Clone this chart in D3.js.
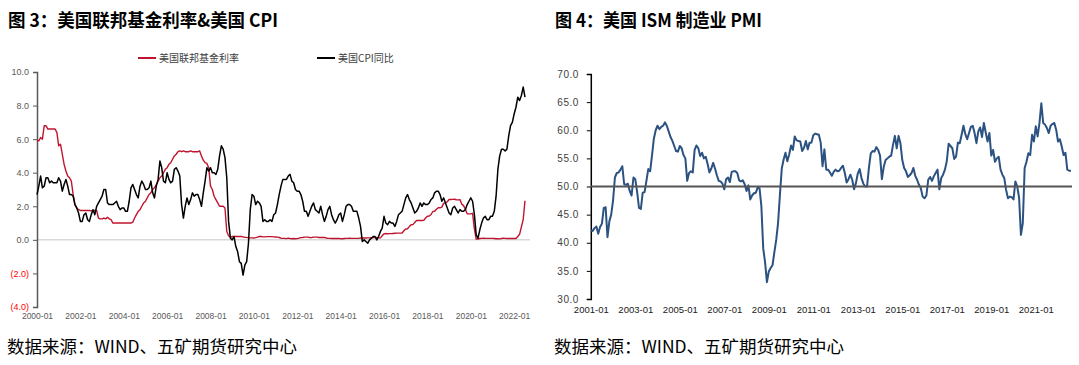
<!DOCTYPE html>
<html><head><meta charset="utf-8">
<script src="https://cdn.jsdelivr.net/npm/d3@7"></script>
<style>
html,body{margin:0;padding:0;background:#fff;}
svg{display:block;}
</style></head><body>
<svg id="c" width="1079" height="365"></svg>
<script>
// ---------- data ----------
const leftStart = [2000, 1];   // first month of left chart series
const fedFunds = [
5.9,5.9,6.1,6.0,6.8,6.8,6.6,6.6,6.6,6.6,6.6,6.4,
5.6,5.7,5.1,4.5,4.1,3.8,3.7,3.5,2.7,2.1,1.9,1.8,
1.75,1.75,1.75,1.75,1.75,1.75,1.73,1.74,1.75,1.75,1.3,1.25,
1.25,1.3,1.25,1.35,1.25,1.2,1.0,1.0,1.0,1.0,1.0,1.0,
1.0,1.0,1.0,1.0,1.0,1.05,1.3,1.5,1.7,1.8,2.0,2.2,
2.3,2.5,2.7,2.8,3.0,3.1,3.3,3.5,3.7,3.8,4.0,4.2,
4.3,4.5,4.6,4.8,5.0,5.1,5.25,5.3,5.25,5.3,5.25,5.25,
5.25,5.3,5.25,5.25,5.25,5.25,5.3,5.0,4.75,4.6,4.55,4.3,
3.2,3.0,2.6,2.4,2.2,2.0,2.0,2.0,1.9,0.5,0.25,0.15,
0.2,0.2,0.2,0.2,0.2,0.2,0.18,0.15,0.15,0.12,0.12,0.12,
0.11,0.13,0.16,0.2,0.2,0.18,0.18,0.19,0.19,0.19,0.19,0.18,
0.17,0.16,0.14,0.1,0.09,0.09,0.07,0.1,0.08,0.07,0.08,0.07,
0.08,0.1,0.13,0.14,0.16,0.16,0.16,0.13,0.14,0.16,0.16,0.16,
0.14,0.15,0.14,0.15,0.11,0.09,0.09,0.08,0.08,0.09,0.08,0.09,
0.07,0.07,0.08,0.09,0.09,0.1,0.09,0.09,0.09,0.09,0.09,0.12,
0.11,0.11,0.11,0.12,0.12,0.13,0.13,0.14,0.14,0.12,0.12,0.24,
0.36,0.38,0.36,0.37,0.37,0.38,0.39,0.4,0.4,0.4,0.41,0.54,
0.65,0.66,0.79,0.9,0.91,1.04,1.15,1.16,1.15,1.15,1.16,1.3,
1.41,1.42,1.51,1.69,1.7,1.82,1.91,1.91,1.95,2.19,2.2,2.27,
2.4,2.4,2.41,2.42,2.39,2.38,2.4,2.13,2.04,1.83,1.55,1.55,
1.55,1.58,0.65,0.05,0.05,0.08,0.09,0.1,0.09,0.09,0.09,0.09,
0.09,0.08,0.07,0.07,0.06,0.08,0.1,0.09,0.08,0.08,0.08,0.08,
0.08,0.08,0.2,0.33,0.77,1.21,2.33
];
const cpiYoY = [
2.7,3.2,3.8,3.1,3.2,3.7,3.7,3.4,3.5,3.4,3.4,3.4,
3.7,3.5,2.9,3.3,3.6,3.2,2.7,2.7,2.6,2.1,1.9,1.6,
1.1,1.1,1.5,1.6,1.2,1.1,1.5,1.8,1.5,2.0,2.2,2.4,
2.6,3.0,3.0,2.2,2.1,2.1,2.1,2.2,2.3,2.0,1.8,1.9,
1.9,1.7,1.7,2.3,3.1,3.3,3.0,2.7,2.5,3.2,3.5,3.3,
3.0,3.0,3.1,3.5,2.8,2.5,3.2,3.6,4.7,4.3,3.5,3.4,
4.0,3.6,3.4,3.5,4.2,4.3,4.1,3.8,2.1,1.3,2.0,2.5,
2.1,2.4,2.8,2.6,2.7,2.7,2.4,2.0,2.8,3.5,4.3,4.1,
4.3,4.0,4.0,3.9,4.2,5.0,5.6,5.4,4.9,3.7,1.1,0.1,
0.0,0.2,-0.4,-0.7,-1.3,-1.4,-2.1,-1.5,-1.3,-0.2,1.8,2.7,
2.6,2.1,2.3,2.2,2.0,1.1,1.2,1.1,1.1,1.2,1.1,1.5,
1.6,2.1,2.7,3.2,3.6,3.6,3.6,3.8,3.9,3.5,3.4,3.0,
2.9,2.9,2.7,2.3,1.7,1.7,1.4,1.7,2.0,2.2,1.8,1.7,
1.6,2.0,1.5,1.1,1.4,1.8,2.0,1.5,1.2,1.0,1.2,1.5,
1.6,1.1,1.5,2.0,2.1,2.1,2.0,1.7,1.7,1.7,1.3,0.8,
-0.1,0.0,-0.1,-0.2,0.0,0.1,0.2,0.2,0.0,0.2,0.5,0.7,
1.4,1.0,0.9,1.1,1.0,1.0,0.8,1.1,1.5,1.6,1.7,2.1,
2.5,2.7,2.4,2.2,1.9,1.6,1.7,1.9,2.2,2.0,2.2,2.1,
2.1,2.2,2.4,2.5,2.8,2.9,2.9,2.7,2.3,2.5,2.2,1.9,
1.6,1.5,1.9,2.0,1.8,1.6,1.8,1.7,1.7,1.8,2.1,2.3,
2.5,2.3,1.5,0.3,0.1,0.6,1.0,1.3,1.4,1.2,1.2,1.4,
1.4,1.7,2.6,4.2,5.0,5.4,5.4,5.3,5.4,6.2,6.8,7.0,
7.5,7.9,8.5,8.3,8.6,9.1,8.5
];
const leftSeriesNames = ["美国联邦基金利率", "美国CPI同比"];
const leftXTicks = ["2000-01","2002-01","2004-01","2006-01","2008-01","2010-01","2012-01","2014-01","2016-01","2018-01","2020-01","2022-01"];
const leftYTicks = [10, 8, 6, 4, 2, 0, -2, -4];

const rightStart = [2001, 1];
const pmi = [
42.2,42.1,42.6,42.9,41.6,42.8,43.4,46.2,46.3,41.0,43.8,45.0,
47.5,51.6,52.4,52.5,53.0,53.6,50.4,50.3,50.5,49.2,48.4,51.6,
51.3,49.0,46.2,46.0,48.9,49.0,51.0,53.1,52.7,55.5,58.5,60.0,
60.8,60.2,60.6,60.8,61.4,60.8,59.8,58.8,58.1,57.2,56.3,56.2,
57.2,56.8,55.6,55.0,51.0,52.4,52.7,52.5,56.5,57.3,56.8,55.4,
56.0,55.0,55.3,54.0,52.5,53.2,54.2,53.2,52.0,51.0,50.9,50.5,
49.5,51.3,51.6,50.8,52.6,52.7,52.7,52.4,51.1,50.9,51.1,50.4,
49.2,50.2,47.7,48.4,48.8,48.9,49.8,49.7,46.5,39.0,36.5,33.0,
34.9,35.5,36.0,38.3,40.5,43.5,48.5,53.2,54.8,56.0,54.5,55.7,
57.3,56.5,58.9,58.2,58.1,58.0,56.3,56.9,58.1,56.6,57.8,57.8,
59.1,59.4,59.3,59.2,57.8,53.6,56.6,53.0,53.0,52.5,51.9,52.6,
53.0,52.7,52.8,53.3,53.7,52.4,50.7,51.3,52.1,51.2,49.5,50.6,
52.3,53.1,51.5,50.5,50.0,50.0,53.3,55.9,56.3,56.2,57.0,56.5,
55.5,51.3,53.5,54.7,55.0,55.3,55.5,57.4,59.0,56.8,59.0,57.7,
54.7,53.3,52.7,51.7,52.0,52.4,53.3,51.9,51.2,50.3,49.7,48.2,
47.9,48.4,51.2,51.7,51.0,51.8,52.4,53.0,49.5,51.5,52.1,53.0,
54.5,57.6,57.2,56.8,54.9,55.3,57.8,57.7,59.2,60.8,59.3,58.4,
59.5,60.6,60.8,59.5,57.7,59.8,60.5,58.8,61.3,59.6,58.0,59.5,
55.5,56.5,54.4,55.0,55.3,53.0,52.1,51.5,49.4,47.9,48.2,48.1,
47.7,50.9,50.0,48.0,41.4,43.5,53.3,54.4,55.9,55.6,59.2,58.0,
60.7,58.9,61.3,64.8,61.3,61.0,60.4,59.5,60.8,61.1,61.3,60.1,
58.0,58.4,57.1,55.6,56.0,53.0,52.8,52.8
];
const rightXTicks = ["2001-01","2003-01","2005-01","2007-01","2009-01","2011-01","2013-01","2015-01","2017-01","2019-01","2021-01"];
const rightYTicks = [70, 65, 60, 55, 50, 45, 40, 35, 30];
const pmiRefLine = 50;

const titles = ["图 3：美国联邦基金利率&美国 CPI", "图 4：美国 ISM 制造业 PMI"];
const sourceText = "数据来源：WIND、五矿期货研究中心";

// ---------- drawing ----------
const svg = d3.select("#c");
const cjk = "'Noto Sans CJK SC', 'Noto Sans', sans-serif";
const num = "'Liberation Sans', Arial, sans-serif";
const monthIdx = (label, start) => {
  const [y, m] = label.split("-").map(Number);
  return (y - start[0]) * 12 + (m - start[1]);
};

// titles & footers
[[8, titles[0], 270], [555, titles[1], 207]].forEach(([x, t, w]) => {
  svg.append("text").attr("x", x).attr("y", 27).attr("font-family", cjk)
    .attr("font-size", 18).attr("font-weight", 700).attr("fill", "#000")
    .attr("textLength", w).attr("lengthAdjust", "spacingAndGlyphs").text(t);
});
[7, 554].forEach(x => {
  svg.append("text").attr("x", x).attr("y", 353).attr("font-family", cjk)
    .attr("font-size", 17).attr("fill", "#000")
    .attr("textLength", 290).attr("lengthAdjust", "spacingAndGlyphs").text(sourceText);
});

// ===== Left chart =====
const lx = d3.scaleLinear().domain([0, 270]).range([37, 525]);
const ly = d3.scaleLinear().domain([-4, 10]).range([307, 72]);

// zero line
svg.append("line").attr("x1", lx(0)).attr("x2", 530)
  .attr("y1", ly(0)).attr("y2", ly(0))
  .attr("stroke", "#d9d9d9").attr("stroke-width", 1.5);

const lyAxis = svg.append("g").attr("transform", `translate(${lx(0)},0)`)
  .call(d3.axisLeft(ly).tickValues(leftYTicks).tickSize(4).tickPadding(4)
    .tickFormat(v => v < 0 ? "(" + Math.abs(v).toFixed(1) + ")" : v.toFixed(1)));
lyAxis.select(".domain").attr("stroke", "#595959").attr("stroke-width", 1.5);
lyAxis.selectAll(".tick line").attr("stroke", "#595959").attr("stroke-width", 1);
lyAxis.selectAll(".tick text").attr("font-family", num).attr("font-size", 9)
  .attr("fill", d => d < 0 ? "#ff0000" : "#595959");

const lxAxis = svg.append("g").attr("transform", `translate(0,${ly(-4)})`)
  .call(d3.axisBottom(lx).tickValues(leftXTicks.map(t => monthIdx(t, leftStart)))
    .tickSize(0).tickPadding(5.5).tickFormat((d, i) => leftXTicks[i]));
lxAxis.select(".domain").remove();
lxAxis.selectAll(".tick text").attr("font-family", num).attr("font-size", 8.5).attr("fill", "#595959");

const lineL = d3.line().x((d, i) => lx(i)).y(d => ly(d));
svg.append("path").datum(fedFunds).attr("d", lineL).attr("fill", "none")
  .attr("stroke", "#c0142e").attr("stroke-width", 1.4).attr("stroke-linejoin", "round");
svg.append("path").datum(cpiYoY).attr("d", lineL).attr("fill", "none")
  .attr("stroke", "#000").attr("stroke-width", 1.5).attr("stroke-linejoin", "round");

// legend
const legendColors = ["#c0142e", "#000"];
[[138, 0], [317, 1]].forEach(([x, i]) => {
  svg.append("line").attr("x1", x).attr("x2", x + 18).attr("y1", 58).attr("y2", 58)
    .attr("stroke", legendColors[i]).attr("stroke-width", 2);
  svg.append("text").attr("x", x + 21).attr("y", 61.5).attr("font-family", cjk)
    .attr("font-size", 10).attr("fill", "#404040").text(leftSeriesNames[i]);
});

// ===== Right chart =====
const rx = d3.scaleLinear().domain([0, 259]).range([590.8, 1071]);
const ry = d3.scaleLinear().domain([30, 70]).range([299, 74]);

const ryAxis = svg.append("g").attr("transform", `translate(${rx(0)},0)`)
  .call(d3.axisLeft(ry).tickValues(rightYTicks).tickSize(4).tickPadding(8)
    .tickFormat(v => v.toFixed(1)));
ryAxis.select(".domain").attr("stroke", "#000").attr("stroke-width", 1.5);
ryAxis.selectAll(".tick line").attr("stroke", "#000");
ryAxis.selectAll(".tick text").attr("font-family", num).attr("font-size", 10)
  .attr("fill", "#404040").attr("letter-spacing", 0.5);

const rxAxis = svg.append("g").attr("transform", `translate(0,${ry(30)})`)
  .call(d3.axisBottom(rx).tickValues(rightXTicks.map(t => monthIdx(t, rightStart)))
    .tickSize(0).tickPadding(7).tickFormat((d, i) => rightXTicks[i]));
rxAxis.select(".domain").remove();
rxAxis.selectAll(".tick text").attr("font-family", num).attr("font-size", 9.5).attr("fill", "#202020");

svg.append("path").datum(pmi)
  .attr("d", d3.line().x((d, i) => rx(i)).y(d => ry(d)))
  .attr("fill", "none").attr("stroke", "#2c5282").attr("stroke-width", 2)
  .attr("stroke-linejoin", "round");

svg.append("line").attr("x1", rx(0)).attr("x2", 1072)
  .attr("y1", ry(pmiRefLine)).attr("y2", ry(pmiRefLine))
  .attr("stroke", "#555").attr("stroke-width", 2);
</script>
</body></html>
